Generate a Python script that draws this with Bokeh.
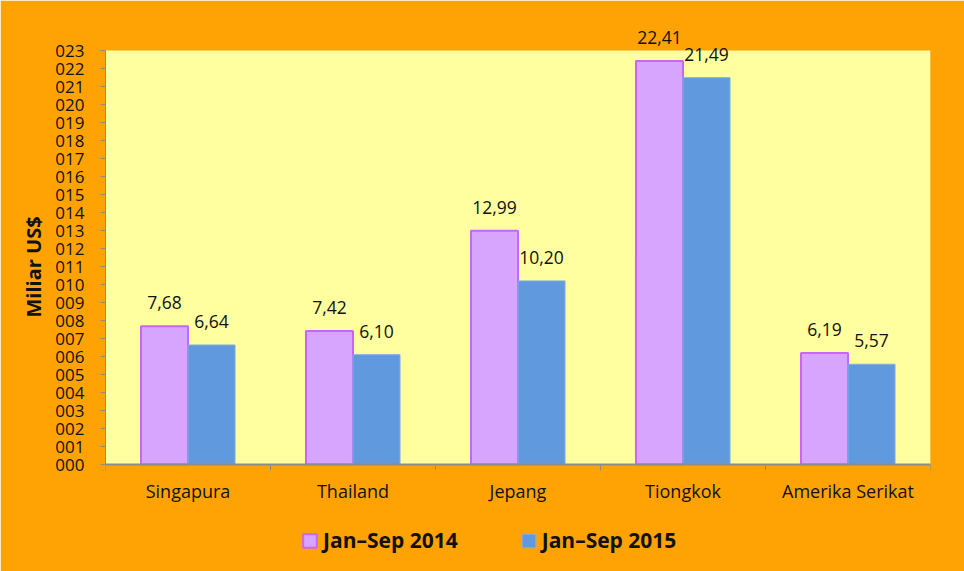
from bokeh.plotting import figure
from bokeh.models import (ColumnDataSource, FixedTicker, Range1d, Legend, LegendItem,
                          LabelSet, BoxAnnotation, Title)
from bokeh.core.properties import value
from bokeh.embed import file_html
from bokeh.resources import INLINE

categories = ["Singapura", "Thailand", "Jepang", "Tiongkok", "Amerika Serikat"]
series_2014 = [7.68, 7.42, 12.99, 22.41, 6.19]
series_2015 = [6.64, 6.10, 10.20, 21.49, 5.57]
series_names = ["Jan\u2013Sep 2014", "Jan\u2013Sep 2015"]
y_title = "Miliar US$"
y_ticks = list(range(0, 24))
y_tick_labels = [f"{t:03d}" for t in y_ticks]

ORANGE = "#FFA304"
PLOT_BG = "#FFFF9F"
PINK = "#D8A5FE"
PINK_LINE = "#C866F8"
BLUE = "#6199DE"
FONT = "Open Sans"

Y_MAX = 23
PX_PER_UNIT = 18.0
bar_w = 0.285
centers = [i + 0.5 for i in range(len(categories))]

def fmt(v):
    return f"{v:.2f}".replace(".", ",")

src14 = ColumnDataSource(dict(x=[c - bar_w / 2 for c in centers], top=series_2014,
                              lab=[fmt(v) for v in series_2014]))
src15 = ColumnDataSource(dict(x=[c + bar_w / 2 for c in centers], top=series_2015,
                              lab=[fmt(v) for v in series_2015]))

p = figure(width=964, height=571, output_backend="svg", toolbar_location=None,
           x_range=Range1d(0, len(categories)),
           y_range=Range1d(-103 / PX_PER_UNIT, Y_MAX + 2),
           min_border_left=105, min_border_right=34, min_border_top=14, min_border_bottom=4)
p.background_fill_color = ORANGE
p.border_fill_color = ORANGE
p.outline_line_color = ORANGE
p.outline_line_width = 3
p.xgrid.visible = False
p.ygrid.visible = False

p.add_layout(BoxAnnotation(left=0, right=len(categories), bottom=0, top=Y_MAX,
                           fill_color=PLOT_BG, fill_alpha=1, line_color="#F6CF6E",
                           line_width=1, level="underlay"))

r14 = p.vbar(x="x", top="top", width=bar_w, bottom=0, source=src14,
             fill_color=PINK, line_color=PINK_LINE, line_width=2)
r15 = p.vbar(x="x", top="top", width=bar_w, bottom=0, source=src15,
             fill_color=BLUE, line_color="#7FAEE6", line_width=1)

for s in (src14, src15):
    p.add_layout(LabelSet(x="x", y="top", text="lab", source=s, text_align="center",
                          text_baseline="alphabetic", y_offset=17, text_font=value(FONT),
                          text_font_size="17.5px", text_color="#111111"))

# y axis
p.yaxis.ticker = FixedTicker(ticks=y_ticks)
p.yaxis.bounds = (0, Y_MAX)
p.yaxis.major_label_overrides = {t: l for t, l in zip(y_ticks, y_tick_labels)}
p.yaxis.major_label_text_font = FONT
p.yaxis.major_label_text_font_size = "17px"
p.yaxis.major_label_text_color = "#111111"
p.yaxis.major_tick_out = 5
p.yaxis.major_tick_in = 0
p.yaxis.minor_tick_line_color = None
p.yaxis.major_label_standoff = 16
p.yaxis.axis_line_color = "#8C8C8C"
p.yaxis.major_tick_line_color = "#8C8C8C"

p.add_layout(Title(text=y_title, align="left", offset=250, text_font=FONT,
                   text_font_style="bold", text_font_size="20px", text_color="#111111",
                   standoff=12), "left")

# x axis (sits at y = 0)
p.xaxis.fixed_location = 0
p.xaxis.ticker = FixedTicker(ticks=centers, minor_ticks=list(range(len(categories) + 1)))
p.xaxis.major_label_overrides = {c: n for c, n in zip(centers, categories)}
p.xaxis.major_tick_out = 0
p.xaxis.major_tick_in = 0
p.xaxis.minor_tick_out = 6
p.xaxis.minor_tick_in = 0
p.xaxis.minor_tick_line_color = "#8C8C8C"
p.xaxis.axis_line_color = "#8C8C8C"
p.xaxis.axis_line_width = 2
p.xaxis.major_label_standoff = 8
p.xaxis.major_label_text_font = FONT
p.xaxis.major_label_text_font_size = "18px"
p.xaxis.major_label_text_color = "#111111"

legend = Legend(items=[LegendItem(label=series_names[0], renderers=[r14]),
                       LegendItem(label=series_names[1], renderers=[r15])],
                orientation="horizontal", location=(196, 13),
                background_fill_alpha=0, border_line_color=None,
                label_text_font=FONT, label_text_font_style="bold",
                label_text_font_size="21px", label_text_color="#111111",
                glyph_width=17, glyph_height=17, spacing=62, padding=0, margin=0,
                label_standoff=5)
p.add_layout(legend, "center")

open("out.html", "w").write(file_html(p, INLINE))
